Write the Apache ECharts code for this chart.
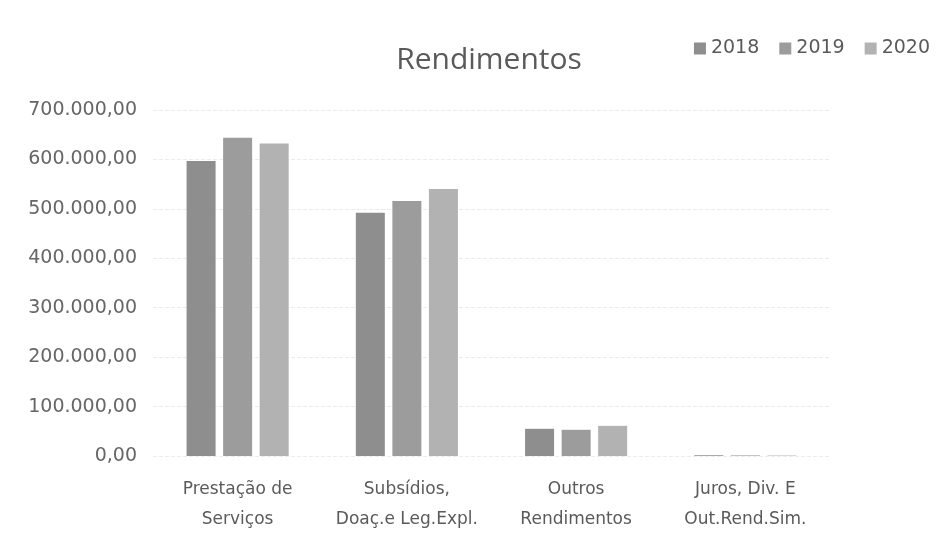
<!DOCTYPE html>
<html>
<head>
	<meta charset="utf-8">
	<title>Rendimentos</title>
	<script src="https://cdn.jsdelivr.net/npm/echarts@6/dist/echarts.min.js"></script>
	<style>
		html, body { margin: 0; padding: 0; background: #fff; }
		#chart { width: 947px; height: 545px; }
	</style>
</head>
<body>
	<div id="chart"></div>
	<script>
		// dados
		var categorias = ['Prestação de\nServiços', 'Subsídios,\nDoaç.e Leg.Expl.', 'Outros\nRendimentos', 'Juros, Div. E\nOut.Rend.Sim.'];
		var anos = ['2018', '2019', '2020'];
		var valores2018 = [597000, 492000, 55000, 1500];
		var valores2019 = [644000, 516000, 53000, 1200];
		var valores2020 = [632000, 540000, 61000, 1000];
		var cores = ['#8e8e8e', '#9c9c9c', '#b2b2b2'];

		var fonte = 'DejaVu Sans, sans-serif';

		function fmt(v) {
			// 700000 -> 700.000,00
			var s = Math.round(v).toString().replace(/\B(?=(\d{3})+(?!\d))/g, '.');
			return s + ',00';
		}

		var chart = echarts.init(document.getElementById('chart'));
		var dados = [valores2018, valores2019, valores2020];
		var series = anos.map(function (ano, i) {
			return {
				name: ano,
				type: 'bar',
				data: dados[i],
				barWidth: 29,
				barGap: '26%',
				itemStyle: { color: cores[i] }
			};
		});

		chart.setOption({
			animation: false,
			title: {
				text: 'Rendimentos',
				left: 484,
				textAlign: 'center',
				top: 40,
				textStyle: { fontFamily: 'Open Sans, sans-serif', fontSize: 30, fontWeight: 'normal', color: '#5a5a5a' }
			},
			legend: {
				data: anos,
				right: 12,
				top: 34,
				itemWidth: 12,
				itemHeight: 12,
				itemGap: 20,
				icon: 'rect',
				textStyle: { fontFamily: fonte, fontSize: 19, color: '#5a5a5a' }
			},
			grid: { left: 153, right: 117, top: 110, bottom: 89, containLabel: false },
			xAxis: {
				type: 'category',
				data: categorias,
				axisLine: { show: false },
				axisTick: { show: false },
				axisLabel: { interval: 0, fontFamily: fonte, fontSize: 17, color: '#5a5a5a', lineHeight: 30, margin: 19 }
			},
			yAxis: {
				type: 'value',
				min: 0,
				max: 700000,
				interval: 100000,
				axisLine: { show: false },
				axisTick: { show: false },
				splitLine: { lineStyle: { color: '#ebebeb', type: 'dashed' } },
				axisLabel: {
					fontFamily: fonte, fontSize: 19, color: '#666', margin: 16,
					formatter: fmt
				}
			},
			series: series
		});
	</script>
</body>
</html>
